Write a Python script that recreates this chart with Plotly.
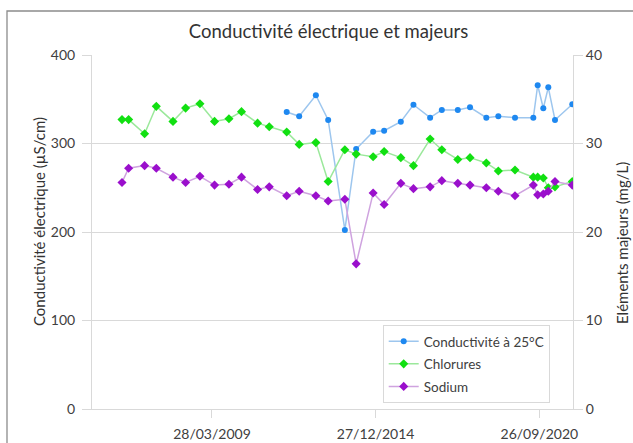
import plotly.graph_objects as go

dates = [
    "2006-01-29", "2006-04-24", "2006-11-15", "2007-04-14", "2007-11-14",
    "2008-04-24", "2008-10-25", "2009-04-30", "2009-11-01", "2010-04-11",
    "2010-11-03", "2011-04-02", "2011-11-12", "2012-04-20", "2012-11-20",
    "2013-04-27", "2013-11-27", "2014-04-21", "2014-11-25", "2015-04-15",
    "2015-11-15", "2016-04-25", "2016-11-25", "2017-04-24", "2017-11-15",
    "2018-04-21", "2018-11-16", "2019-04-19", "2019-11-19", "2020-07-11",
    "2020-09-05", "2020-11-16", "2021-01-19", "2021-04-15", "2021-11-23",
]

conductivite = [
    None, None, None, None, None, None, None, None, None, None, None, None,
    335.6, 330.7, 354.5, 326.6, 202.3, 293.8, 313.3, 314.5, 324.6, 343.8,
    329.2, 337.9, 337.9, 340.9, 329.2, 330.7, 329.2, 329.2, 365.8, 339.8,
    363.5, 326.6, 344.3,
]

chlorures = [
    32.7, 32.7, 31.1, 34.2, 32.5, 34.0, 34.5, 32.5, 32.8, 33.6, 32.3, 31.9,
    31.3, 29.9, 30.1, 25.7, 29.3, 28.8, 28.5, 29.1, 28.4, 27.5, 30.5, 29.3,
    28.2, 28.4, 27.8, 26.9, 27.0, 26.2, 26.2, 26.1, 25.0, 25.1, 25.7,
]

sodium = [
    25.6, 27.2, 27.5, 27.2, 26.2, 25.6, 26.3, 25.3, 25.4, 26.2, 24.8, 25.1,
    24.1, 24.6, 24.1, 23.5, 23.7, 16.4, 24.4, 23.1, 25.5, 24.9, 25.1, 25.8,
    25.5, 25.3, 25.0, 24.6, 24.1, 25.3, 24.2, 24.3, 24.6, 25.7, 25.3,
]

x_tickvals = ["2009-03-28", "2014-12-27", "2020-09-26"]
x_ticktext = ["28/03/2009", "27/12/2014", "26/09/2020"]
x_range = ["2005-01-09", "2021-12-02"]

FONT = "Lato, Calibri, Carlito, sans-serif"
TXT = "#404040"
GRID = "#d9d9d9"

fig = go.Figure()
fig.add_trace(go.Scatter(
    x=dates, y=conductivite, name="Conductivité à 25°C", mode="lines+markers",
    line=dict(color="#9dc6ee", width=1.5),
    marker=dict(color="#1e88f0", size=6, symbol="circle"),
    connectgaps=False, legendgroup="a",
))
fig.add_trace(go.Scatter(
    x=dates, y=chlorures, name="Chlorures", mode="lines+markers", yaxis="y2",
    line=dict(color="#9be89b", width=1.5),
    marker=dict(color="#11e011", size=7, symbol="diamond"),
    legendgroup="b",
))
fig.add_trace(go.Scatter(
    x=dates, y=sodium, name="Sodium", mode="lines+markers", yaxis="y2",
    line=dict(color="#cfa3df", width=1.5),
    marker=dict(color="#9a0fcc", size=7, symbol="diamond"),
    legendgroup="c",
))

fig.update_layout(
    width=633, height=443,
    margin=dict(l=92, r=60, t=55, b=34),
    paper_bgcolor="white", plot_bgcolor="white",
    font=dict(family=FONT, size=14, color=TXT),
    title=dict(text="Conductivité électrique et majeurs", x=328.5 / 633, xanchor="center",
               y=1 - 32 / 443, yanchor="middle", font=dict(size=18.5, color="#333333")),
    xaxis=dict(
        type="date", range=x_range, tickvals=x_tickvals, ticktext=x_ticktext,
        showgrid=False, showline=True, linecolor=GRID, linewidth=1,
        ticks="outside", ticklen=8, tickcolor=GRID, zeroline=False,
        tickfont=dict(size=14, color=TXT), automargin=False, ticklabelstandoff=4,
    ),
    yaxis=dict(
        range=[0, 400], tickvals=[0, 100, 200, 300, 400], showgrid=True, gridcolor=GRID,
        showline=True, linecolor=GRID, ticks="outside", ticklen=9, tickcolor=GRID,
        zeroline=False, tickfont=dict(size=14, color=TXT), ticklabelstandoff=4,
        automargin=False,
    ),
    yaxis2=dict(
        range=[0, 40], tickvals=[0, 10, 20, 30, 40], overlaying="y", side="right",
        showgrid=False, showline=True, linecolor=GRID, ticks="outside", ticklen=9,
        tickcolor=GRID, zeroline=False, tickfont=dict(size=14, color=TXT),
        automargin=False,
    ),
    legend=dict(
        x=(382.7 - 92) / 481, y=(409 - 325) / 354, xanchor="left", yanchor="top",
        bgcolor="white", bordercolor=GRID, borderwidth=1,
        font=dict(size=13.5, color=TXT), traceorder="grouped", tracegroupgap=2,
    ),
    showlegend=True,
)

fig.add_annotation(
    text="Conductivité électrique (µS/cm)", xref="paper", yref="paper",
    x=(39 - 92) / 481, y=(409 - 222) / 354, xanchor="center", yanchor="middle",
    textangle=-90, showarrow=False, font=dict(size=15, color="#333333"),
)
fig.add_annotation(
    text="Eléments majeurs (mg/L)", xref="paper", yref="paper",
    x=(622 - 92) / 481, y=(409 - 243) / 354, xanchor="center", yanchor="middle",
    textangle=-90, showarrow=False, font=dict(size=15, color="#333333"),
)

fig.add_shape(
    type="rect", xref="paper", yref="paper",
    x0=(7 - 92) / 481, x1=(660 - 92) / 481, y0=(409 - 470) / 354, y1=(409 - 11) / 354,
    line=dict(color="#8c8c8c", width=1.3), fillcolor="rgba(0,0,0,0)", layer="above",
)

fig.write_html(
    "out.html",
    config={"displayModeBar": False},
    post_script="document.body.style.margin='0';document.body.style.overflow='hidden';",
)
